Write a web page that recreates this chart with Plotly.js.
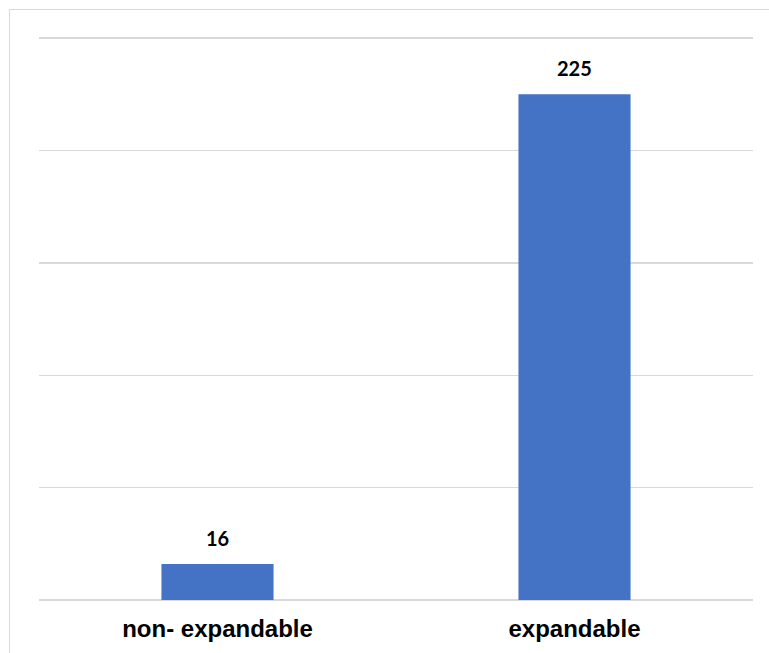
<!DOCTYPE html>
<html>
<head>
<meta charset="utf-8">
<script src="https://cdn.plot.ly/plotly-3.0.1.min.js"></script>
<style>
  html, body { margin: 0; padding: 0; background: #fff; overflow: hidden; }
  #wrap { position: relative; width: 769px; height: 653px; }
  #frame {
    position: absolute; left: 9px; top: 9px; width: 780px; height: 660px;
    border-top: 1.5px solid #d9d9d9; border-left: 1.5px solid #d9d9d9;
    pointer-events: none; z-index: 2;
  }
  #chart { position: absolute; left: 0; top: 0; width: 769px; height: 653px; }
</style>
</head>
<body>
<div id="wrap">
  <div id="chart"></div>
  <div id="frame"></div>
</div>
<script>
// Bar chart: count per category
const categories = ["non- expandable", "expandable"];
const counts = [16, 225];

const barColor = "#4472C4";
const gridColor = "#d9d9d9";

const trace = {
  type: "bar",
  x: categories,
  y: counts,
  marker: { color: barColor },
  hoverinfo: "x+y"
};

// Value labels above each bar, positioned from the data values
const labels = categories.map((c, i) => ({
  x: c,
  y: counts[i],
  xref: "x",
  yref: "y",
  text: String(counts[i]),
  showarrow: false,
  yanchor: "bottom",
  yshift: 12,
  font: { family: "Lato, 'Open Sans', sans-serif", size: 20, color: "#000", weight: "bold" }
}));

const layout = {
  width: 769,
  height: 653,
  margin: { l: 39, r: 16, t: 37, b: 53, pad: 0 },
  paper_bgcolor: "#ffffff",
  plot_bgcolor: "#ffffff",
  bargap: 0.686,
  showlegend: false,
  xaxis: {
    showgrid: false,
    showline: false,
    ticks: "",
    tickfont: { family: "'Liberation Sans', Arial, sans-serif", size: 24, color: "#000", weight: "bold" },
    ticklabelstandoff: 12
  },
  yaxis: {
    range: [0, 250.5],
    tickvals: [0, 50, 100, 150, 200, 250],
    showgrid: true,
    gridcolor: gridColor,
    gridwidth: 1.5,
    zeroline: true,
    zerolinecolor: gridColor,
    zerolinewidth: 1.5,
    showline: false,
    showticklabels: false,
    ticks: "",
    fixedrange: true
  },
  annotations: labels
};

Plotly.newPlot("chart", [trace], layout, { displayModeBar: false, staticPlot: true });
</script>
</body>
</html>
